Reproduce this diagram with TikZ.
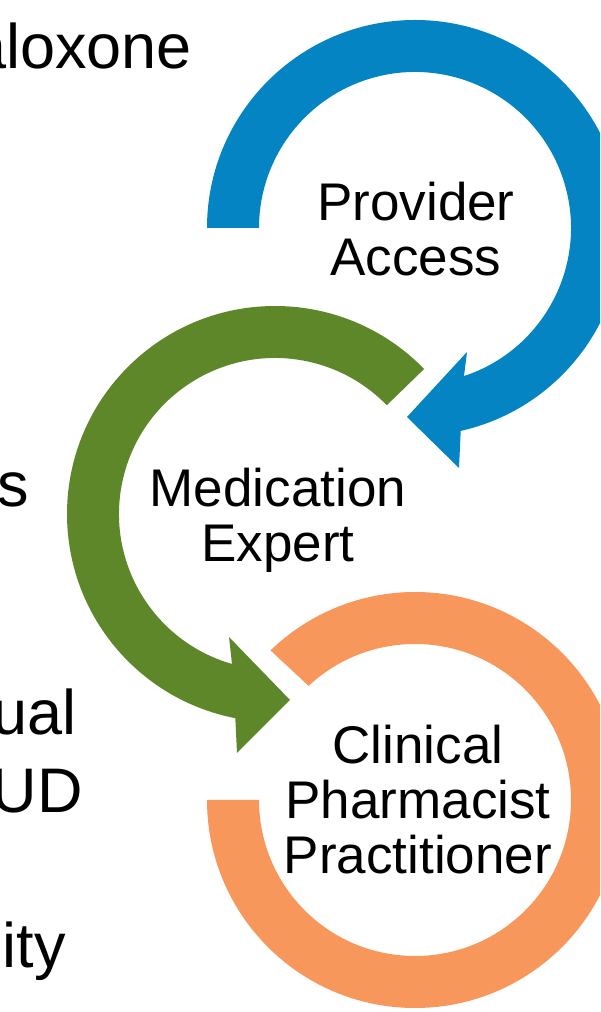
\documentclass[tikz,border=0pt]{standalone}
\usepackage{fontspec}
\setmainfont{Liberation Sans}
\usetikzlibrary{calc}
\definecolor{ringblue}{HTML}{0484C2}
\definecolor{ringgreen}{HTML}{5E8729}
\definecolor{ringorange}{HTML}{F7975B}
\begin{document}
\begin{tikzpicture}[x=1pt,y=1pt,
  ringtext/.style={font=\fontsize{53}{55}\selectfont, align=center, anchor=base, inner sep=0pt},
  sidetext/.style={font=\fontsize{63}{75}\selectfont, anchor=base east, inner sep=0pt}]
\useasboundingbox (0,0) rectangle (600,1012);
\clip (0,0) rectangle (600,1012);
\def\ringout{208}
\def\ringin{156}
% ring centres
\coordinate (cB) at (415,784);
\coordinate (cG) at (275,498);
\coordinate (cO) at (415,212);
% blue circular arrow, clockwise
\fill[ringblue] ($(cB)+(180:\ringout)$) arc[start angle=180,end angle=-77.3,radius=\ringout]
  -- (459,544) -- (407,595) -- (467,660)
  -- ($(cB)+(-71.7:\ringin)$) arc[start angle=-71.7,end angle=180,radius=\ringin] -- cycle;
% green circular arrow, counter-clockwise
\fill[ringgreen] ($(cG)+(44.2:\ringout)$) arc[start angle=44.2,end angle=259,radius=\ringout]
  -- (237,259) -- (290,312) -- (229,375)
  -- ($(cG)+(254:\ringin)$) arc[start angle=254,end angle=44.2,radius=\ringin] -- cycle;
% orange ring segment
\fill[ringorange] ($(cO)+(180:\ringout)$) arc[start angle=180,end angle=494,radius=\ringout]
  -- ($(cO)+(493:\ringin)$) arc[start angle=493,end angle=180,radius=\ringin] -- cycle;
% ring captions (base = baseline of the last line)
\node[ringtext] (pa) at (416,736) {Provider\\Access};
\node[ringtext] (me) at (278,450) {Medication\\Expert};
\node[ringtext] (cpp) at (418,138) {Clinical\\Pharmacist\\Practitioner};
% ends of the bullet lines on the left
\node[sidetext] (t1) at (192,943) {Naloxone};
\node[sidetext] (t2) at (29,505) {s};
\node[sidetext] (t3) at (77,277) {ual};
\node[sidetext] (t4) at (83,199) {UD};
\node[sidetext] (t5) at (66,44) {ity};
\end{tikzpicture}
\end{document}
